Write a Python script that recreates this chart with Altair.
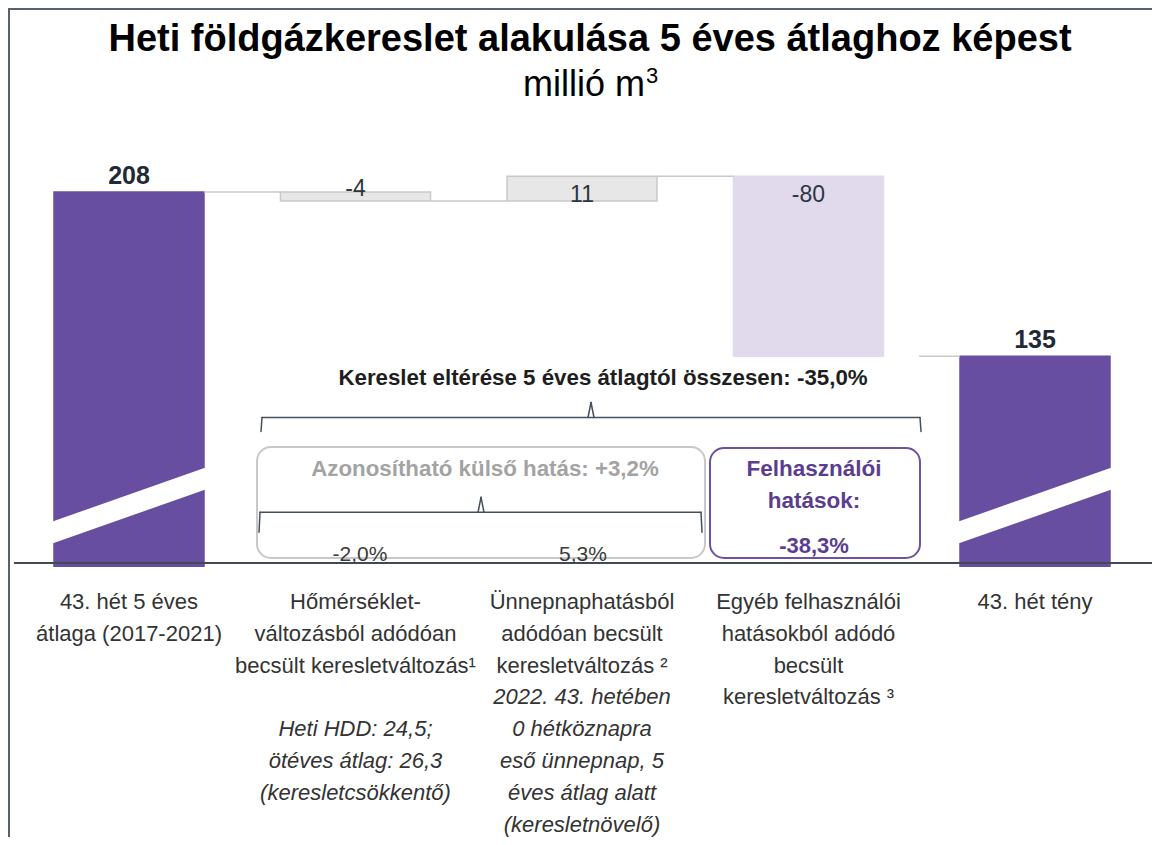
import altair as alt
import pandas as pd

# ---------------- data ----------------
CATEGORIES = ["5 éves átlag", "Hőmérséklet", "Ünnepnap", "Egyéb felhasználói", "43. hét tény"]
STEP_TYPE = ["total", "delta", "delta", "delta", "total"]
VALUES = [208, -4, 11, -80, 135]
VALUE_TEXT = ["208", "-4", "11", "-80", "135"]

LABEL_UPRIGHT = [
    ["43. hét 5 éves", "átlaga (2017-2021)"],
    ["Hőmérséklet-", "változásból adódóan", "becsült keresletváltozás¹"],
    ["Ünnepnaphatásból", "adódóan becsült", "keresletváltozás ²"],
    ["Egyéb felhasználói", "hatásokból adódó", "becsült", "keresletváltozás ³"],
    ["43. hét tény"],
]
LABEL_ITALIC = [
    [],
    ["Heti HDD: 24,5;", "ötéves átlag: 26,3", "(keresletcsökkentő)"],
    ["2022. 43. hetében", "0 hétköznapra", "eső ünnepnap, 5", "éves átlag alatt", "(keresletnövelő)"],
    [],
    [],
]
ITALIC_FIRST_LINE = [0, 4, 3, 0, 0]

TITLE = "Heti földgázkereslet alakulása 5 éves átlaghoz képest"
SUBTITLE = "millió m"
SUBTITLE_SUP = "3"
TOTAL_NOTE = "Kereslet eltérése 5 éves átlagtól összesen: -35,0%"
EXTERNAL_NOTE = "Azonosítható külső hatás: +3,2%"
EXTERNAL_SHARES = ["-2,0%", "5,3%"]
USER_NOTE = ["Felhasználói", "hatások:"]
USER_SHARE = "-38,3%"

# ---------------- styles ----------------
FONT = "Liberation Sans"
PURPLE = "#674ea0"
FILL_COLORS = [PURPLE, "#e7e7e7", "#e7e7e7", "#e1daed", PURPLE]
STROKE_COLORS = [PURPLE, "#c9c9c9", "#c9c9c9", "#e1daed", PURPLE]
W, H = 1144, 829
X_DOMAIN = [-0.5342, 4.5166]
Y_DOMAIN = [-78.7, 289.8]
AXIS_FLOOR = 43.0
BAR_PX = 150
HALF = (BAR_PX / 2) / 226.5

XS = alt.Scale(domain=X_DOMAIN, nice=False, zero=False, padding=0)
YS = alt.Scale(domain=Y_DOMAIN, nice=False, zero=False, padding=0)
one = pd.DataFrame({"d": [0]})

# ---------------- waterfall table ----------------
rows, conns = [], []
running = 0
for i, (c, t, v, lab) in enumerate(zip(CATEGORIES, STEP_TYPE, VALUES, VALUE_TEXT)):
    if t == "total":
        lo, hi = AXIS_FLOOR - 1.3, v
        running = v
    else:
        lo, hi = running, running + v
        running = running + v
    rows.append(dict(i=i, cat=c, kind=t, y0=lo, y1=hi, top=max(lo, hi), label=lab))
    if i < len(VALUES) - 1:
        conns.append(dict(xa=i + HALF, xb=i + 1 - HALF, y=running))
conns[-1]["xa"] = 3 + 0.488
bars = pd.DataFrame(rows)
conn = pd.DataFrame(conns)


def rule(x1, y1, x2, y2, color="#44505b", width=1.5, cap="round"):
    return alt.Chart(one).mark_rule(color=color, strokeWidth=width, strokeCap=cap).encode(
        x=alt.value(x1), y=alt.value(y1), x2=alt.value(x2), y2=alt.value(y2))


def label(text, x, y, size, color, weight="normal", style="normal", align="center", lh=None):
    kw = dict(text=text, font=FONT, fontSize=size, color=color, fontWeight=weight,
              fontStyle=style, align=align, baseline="alphabetic")
    if lh:
        kw["lineHeight"] = lh
    return alt.Chart(one).mark_text(**kw).encode(x=x, y=alt.value(y))


def box(x1, y1, x2, y2, color):
    return alt.Chart(one).mark_rect(cornerRadius=14, fill="white", fillOpacity=0,
                                    stroke=color, strokeWidth=2).encode(
        x=alt.value(x1), x2=alt.value(x2), y=alt.value(y1), y2=alt.value(y2))


def brace(x1, x2, xm, y, rise, drop):
    return [rule(x1, y, x2, y), rule(xm - 3, y, xm, y - rise), rule(xm, y - rise, xm + 3, y),
            rule(x1, y, x1 - 1, y + drop), rule(x2, y, x2 + 1, y + drop)]


layers = []

# bars
layers.append(alt.Chart(bars).mark_bar(size=BAR_PX, strokeWidth=1.5).encode(
    x=alt.X("i:Q", scale=XS, axis=None),
    y=alt.Y("y0:Q", scale=YS, axis=None),
    y2="y1:Q",
    fill=alt.Fill("cat:N", scale=alt.Scale(domain=CATEGORIES, range=FILL_COLORS), legend=None),
    stroke=alt.Stroke("cat:N", scale=alt.Scale(domain=CATEGORIES, range=STROKE_COLORS), legend=None),
))

# axis-break stripes on the two total bars
layers.append(rule(38, 526.8, 204, 468.2, color="white", width=20.7, cap="butt"))
layers.append(rule(944, 526.8, 1110, 468.2, color="white", width=20.7, cap="butt"))

# connectors
layers.append(alt.Chart(conn).mark_rule(color="#c9c9c9", strokeWidth=1.5).encode(
    x=alt.X("xa:Q", scale=XS), x2="xb:Q", y=alt.Y("y:Q", scale=YS)))

# baseline and frame
layers.append(rule(6, 555, 1150, 555, color="#3f4a55", width=2, cap="butt"))
layers.append(rule(0, 1, 1150, 1, color="#56626c", width=2, cap="butt"))
layers.append(rule(1, 0, 1, 840, color="#56626c", width=2, cap="butt"))

# value labels
tot = bars[bars["kind"] == "total"]
layers.append(alt.Chart(tot).mark_text(font=FONT, fontSize=25, fontWeight="bold", color="#1f2a36",
                                       baseline="alphabetic", dy=-8).encode(
    x=alt.X("i:Q", scale=XS), y=alt.Y("top:Q", scale=YS), text="label:N"))
DELTA_DY = {1: 4, 2: 25.5, 3: 25.5}
for idx, dy in DELTA_DY.items():
    layers.append(alt.Chart(bars[bars["i"] == idx]).mark_text(
        font=FONT, fontSize=23, color="#2b3542", baseline="alphabetic", dy=dy).encode(
        x=alt.X("i:Q", scale=XS), y=alt.Y("top:Q", scale=YS), text="label:N"))

# title
layers.append(label(TITLE, alt.value(582), 43, 38, "#000000", weight="bold"))
layers.append(label(SUBTITLE, alt.value(637), 88, 36, "#000000", align="right"))
layers.append(label(SUBTITLE_SUP, alt.value(638), 75, 22, "#000000", align="left"))

# annotations
layers.append(label(TOTAL_NOTE, alt.value(595), 377, 22.3, "#1e1e1e", weight="bold"))
layers += brace(254, 912, 583, 409.5, 15, 14)
layers.append(box(249, 439, 697, 550, "#c8c8c8"))
layers.append(box(702, 440, 912, 550, "#6d52a3"))
layers.append(label(EXTERNAL_NOTE, alt.value(477), 468, 22.3, "#a3a3a3", weight="bold"))
layers += brace(252, 693, 473, 504.3, 15, 20)
layers.append(label(EXTERNAL_SHARES[0], alt.value(352), 553, 21, "#3a3a3a"))
layers.append(label(EXTERNAL_SHARES[1], alt.value(575), 553, 21, "#3a3a3a"))
layers.append(label(USER_NOTE, alt.value(806), 468, 22.5, "#5b3d90", weight="bold", lh=32))
layers.append(label(USER_SHARE, alt.value(806), 545, 22, "#5b3d90", weight="bold"))

# category labels
LINE0, LH = 601, 31.8
for i in range(len(CATEGORIES)):
    xd = alt.X(datum=i, scale=XS)
    if LABEL_UPRIGHT[i]:
        layers.append(label(LABEL_UPRIGHT[i], xd, LINE0, 22, "#333333", lh=LH))
    if LABEL_ITALIC[i]:
        layers.append(label(LABEL_ITALIC[i], xd, LINE0 + ITALIC_FIRST_LINE[i] * LH, 22, "#333333",
                            style="italic", lh=LH))

chart = alt.layer(*layers).properties(
    width=W, height=H, autosize=alt.AutoSizeParams(type="none"), padding=0, background="white"
).configure_view(stroke=None)

chart.save("out.html", embed_options={"renderer": "svg", "actions": False})
